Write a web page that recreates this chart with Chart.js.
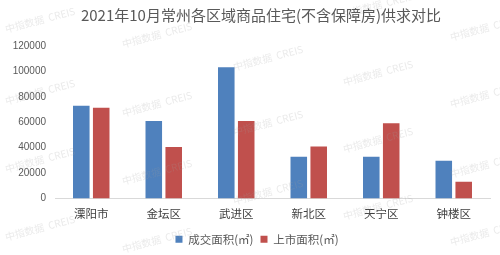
<!DOCTYPE html>
<html>
<head>
<meta charset="utf-8">
<script src="https://cdn.jsdelivr.net/npm/chart.js@4/dist/chart.umd.min.js"></script>
<style>
  html, body { margin: 0; padding: 0; background: #ffffff; }
  #wrap { width: 500px; height: 255px; }
</style>
</head>
<body>
<div id="wrap"><canvas id="c" width="500" height="255"></canvas></div>
<script>
// 常州各区域商品住宅供求数据 (2021年10月, 单位: ㎡)
const districts = ['溧阳市', '金坛区', '武进区', '新北区', '天宁区', '钟楼区'];
const dealArea  = [72900, 60900, 103200, 32900, 32900, 29800];   // 成交面积
const supplyArea = [71400, 40500, 60900, 41000, 59300, 13100];   // 上市面积
const seriesNames = ['成交面积(㎡)', '上市面积(㎡)'];
const yTicks = [0, 20000, 40000, 60000, 80000, 100000, 120000];
const chartTitle = '2021年10月常州各区域商品住宅(不含保障房)供求对比';

const CJK = "'Noto Sans CJK SC', 'Noto Sans', sans-serif";

// title drawn centred over the whole figure block
const titleText = {
  id: 'titleText',
  afterDraw(chart) {
    const ctx = chart.ctx;
    ctx.save();
    ctx.font = "15px " + CJK;
    ctx.fillStyle = '#595959';
    ctx.textAlign = 'center';
    ctx.textBaseline = 'middle';
    ctx.fillText(chartTitle, 261, 15);
    ctx.restore();
  }
};

// nudge the legend row a little to the right
const legendShift = {
  id: 'legendShift',
  afterLayout(chart) {
    if (chart.legend) {
      chart.legend.left += 9;
      chart.legend.right += 9;
    }
  }
};

// faint repeating source watermark
const watermark = {
  id: 'watermark',
  afterDatasetsDraw(chart) {
    const ctx = chart.ctx;
    const spots = [
      [40, 20], [40, 92], [40, 160], [40, 228],
      [157, 35], [157, 104], [157, 172], [157, 240],
      [268, 58], [268, 123], [268, 192],
      [378, 5], [378, 73], [378, 140], [378, 207],
      [485, 28], [485, 95], [485, 165], [485, 233]
    ];
    ctx.save();
    ctx.font = "10px " + CJK;
    ctx.fillStyle = 'rgba(160,160,160,0.22)';
    ctx.textAlign = 'center';
    ctx.textBaseline = 'middle';
    spots.forEach(([x, y]) => {
      ctx.save();
      ctx.translate(x, y);
      ctx.rotate(-0.26);
      ctx.fillText('中指数据  CREIS', 0, 0);
      ctx.restore();
    });
    ctx.restore();
  }
};

new Chart(document.getElementById('c'), {
  type: 'bar',
  data: {
    labels: districts,
    datasets: [
      { label: seriesNames[0], data: dealArea, backgroundColor: '#4F81BD',
        categoryPercentage: 0.55, barPercentage: 0.83 },
      { label: seriesNames[1], data: supplyArea, backgroundColor: '#C0504D',
        categoryPercentage: 0.55, barPercentage: 0.83 }
    ]
  },
  options: {
    responsive: false,
    animation: false,
    devicePixelRatio: 1,
    layout: { padding: { left: 6, right: 10, top: 46, bottom: 0 } },
    plugins: {
      title: { display: false },
      legend: {
        position: 'bottom',
        labels: {
          color: '#595959',
          font: { family: CJK, size: 11.5 },
          boxWidth: 7, boxHeight: 7,
          padding: 7
        }
      },
      tooltip: { enabled: false }
    },
    scales: {
      x: {
        grid: { display: false, drawTicks: false },
        border: { display: true, color: '#D9D9D9', width: 1 },
        ticks: { color: '#404040', font: { family: CJK, size: 11.5 }, padding: 8 },
        afterFit(axis) { axis.height = 28; }
      },
      y: {
        min: 0, max: 120000,
        afterBuildTicks(axis) { axis.ticks = yTicks.map(v => ({ value: v })); },
        grid: { display: false, drawTicks: false },
        border: { display: false },
        ticks: {
          color: '#595959',
          font: { family: "'Liberation Sans', sans-serif", size: 10 },
          padding: 9,
          callback: v => String(v)
        },
        afterFit(axis) { axis.width = 49; }
      }
    }
  },
  plugins: [watermark, legendShift, titleText]
});
</script>
</body>
</html>
